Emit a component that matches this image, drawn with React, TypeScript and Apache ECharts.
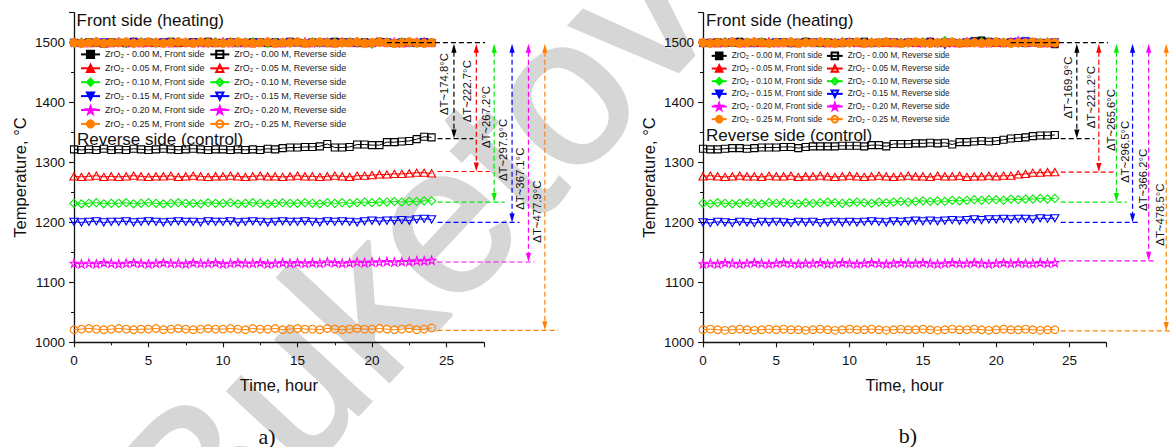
import React, { useEffect, useRef } from "react";
import * as echarts from "echarts";

// ---------- data ----------
const TIME = [0,0.5,1,1.5,2,2.5,3,3.5,4,4.5,5,5.5,6,6.5,7,7.5,8,8.5,9,9.5,10,10.5,11,11.5,12,12.5,13,13.5,14,14.5,15,15.5,16,16.5,17,17.5,18,18.5,19,19.5,20,20.5,21,21.5,22,22.5,23,23.5,24];
const CONCENTRATIONS = ["0.00", "0.05", "0.10", "0.15", "0.20", "0.25"];
const X_TICKS_MAX = 27.5;
const Y_MIN = 1000;
const Y_MAX = 1550;
const HEATING_LEVEL = 1500;

// panel a) front side
const A_FRONT_000 = [1500,1499,1501,1500,1498,1501,1500,1499,1502,1500,1501,1499,1500,1502,1499,1500,1501,1500,1502,1499,1500,1501,1499,1500,1501,1500,1499,1501,1500,1502,1500,1499,1501,1500,1499,1502,1501,1500,1499,1501,1500,1502,1500,1499,1501,1500,1499,1501,1500];
const A_FRONT_005 = [1501,1500,1502,1499,1501,1500,1503,1499,1500,1501,1499,1502,1500,1501,1499,1500,1502,1501,1499,1500,1501,1503,1500,1499,1501,1500,1502,1499,1501,1500,1503,1499,1500,1502,1501,1499,1500,1501,1503,1500,1499,1501,1502,1500,1499,1503,1500,1501,1500];
const A_FRONT_010 = [1499,1501,1500,1502,1499,1500,1501,1498,1500,1502,1500,1499,1501,1500,1502,1499,1501,1500,1499,1502,1500,1501,1499,1500,1502,1500,1498,1501,1500,1499,1501,1500,1502,1499,1500,1501,1499,1502,1500,1501,1497,1500,1501,1499,1502,1500,1499,1501,1500];
const A_FRONT_015 = [1500,1498,1500,1499,1501,1499,1500,1498,1501,1500,1499,1500,1501,1498,1500,1499,1501,1500,1498,1500,1499,1501,1500,1498,1500,1501,1499,1500,1498,1501,1500,1499,1500,1498,1501,1500,1499,1501,1498,1500,1499,1500,1501,1499,1500,1498,1500,1501,1499];
const A_FRONT_020 = [1500,1501,1499,1502,1500,1499,1501,1500,1502,1499,1500,1501,1500,1499,1502,1501,1500,1499,1501,1500,1502,1499,1500,1501,1499,1500,1502,1500,1499,1501,1500,1502,1499,1500,1501,1499,1502,1500,1501,1499,1500,1501,1500,1502,1499,1500,1501,1502,1500];
const A_FRONT_025 = [1500,1499,1500,1501,1499,1500,1500,1501,1499,1500,1501,1500,1499,1500,1501,1500,1499,1501,1500,1500,1499,1500,1501,1500,1499,1500,1501,1499,1500,1500,1501,1499,1500,1501,1500,1499,1500,1500,1501,1499,1500,1501,1500,1499,1500,1501,1500,1499,1500];
// panel a) reverse side
const A_REV_000 = [1322,1321,1322,1321,1323,1321,1322,1321,1323,1322,1321,1322,1323,1322,1321,1322,1323,1322,1321,1322,1322,1321,1322,1321,1322,1321,1323,1322,1324,1325,1325,1326,1326,1327,1331,1325,1325,1326,1330,1330,1329,1329,1334,1334,1335,1336,1339,1343,1342];
const A_REV_005 = [1277,1276,1277,1278,1276,1277,1276,1277,1278,1277,1276,1277,1277,1278,1276,1277,1278,1277,1276,1277,1277,1278,1277,1276,1277,1278,1277,1277,1276,1277,1278,1277,1277,1276,1277,1278,1277,1276,1278,1278,1279,1280,1280,1281,1281,1282,1283,1283,1282];
const A_REV_010 = [1232,1231,1232,1233,1231,1232,1232,1233,1231,1232,1233,1232,1231,1232,1233,1232,1232,1231,1233,1232,1232,1233,1231,1232,1233,1232,1231,1232,1233,1232,1232,1233,1232,1231,1233,1232,1233,1232,1233,1234,1233,1234,1234,1235,1234,1235,1235,1236,1236];
const A_REV_015 = [1201,1200,1201,1202,1200,1201,1201,1202,1200,1201,1202,1201,1200,1201,1202,1201,1201,1200,1202,1201,1201,1202,1200,1201,1202,1201,1200,1201,1202,1201,1201,1202,1201,1200,1202,1201,1202,1201,1200,1202,1203,1202,1203,1203,1204,1203,1205,1206,1205];
const A_REV_020 = [1132,1131,1132,1131,1133,1132,1131,1132,1133,1132,1131,1132,1133,1132,1132,1131,1133,1132,1132,1133,1131,1132,1133,1132,1132,1133,1131,1132,1133,1132,1133,1132,1133,1132,1134,1133,1132,1133,1134,1133,1134,1134,1135,1134,1135,1135,1136,1136,1137];
const A_REV_025 = [1021,1022,1023,1022,1021,1022,1023,1022,1021,1022,1022,1023,1021,1022,1023,1022,1021,1022,1023,1022,1022,1023,1022,1021,1023,1022,1022,1023,1021,1022,1023,1022,1022,1021,1023,1022,1021,1022,1023,1022,1022,1023,1022,1021,1022,1023,1021,1022,1024];

// panel b) front side
const B_FRONT_000 = [1499,1500,1501,1499,1500,1502,1500,1499,1501,1500,1500,1501,1499,1500,1502,1500,1499,1501,1500,1499,1501,1500,1502,1499,1500,1501,1500,1499,1501,1500,1500,1502,1499,1501,1500,1499,1500,1503,1504,1502,1500,1499,1501,1500,1499,1501,1500,1499,1497];
const B_FRONT_005 = [1500,1501,1499,1502,1500,1499,1501,1500,1499,1502,1500,1501,1499,1500,1501,1502,1500,1499,1501,1500,1502,1499,1500,1501,1500,1499,1502,1500,1501,1499,1500,1502,1501,1499,1500,1501,1499,1502,1500,1501,1499,1500,1502,1501,1503,1500,1501,1499,1500];
const B_FRONT_010 = [1501,1499,1500,1502,1499,1500,1501,1500,1502,1499,1500,1501,1499,1500,1502,1500,1499,1501,1500,1502,1499,1500,1501,1500,1499,1502,1500,1501,1499,1500,1502,1500,1499,1504,1500,1499,1501,1500,1502,1499,1500,1501,1500,1499,1502,1500,1501,1499,1500];
const B_FRONT_015 = [1499,1500,1498,1500,1501,1499,1500,1498,1500,1499,1501,1500,1498,1500,1499,1501,1500,1499,1498,1500,1501,1499,1500,1498,1500,1499,1501,1500,1499,1500,1498,1500,1499,1495,1500,1499,1501,1500,1499,1500,1501,1499,1500,1502,1503,1500,1499,1500,1501];
const B_FRONT_020 = [1501,1500,1499,1501,1502,1500,1499,1501,1500,1502,1499,1500,1501,1499,1502,1500,1501,1499,1500,1501,1502,1500,1499,1501,1500,1502,1499,1500,1501,1500,1499,1502,1500,1501,1499,1500,1502,1501,1500,1499,1501,1500,1502,1504,1501,1500,1499,1501,1500];
const B_FRONT_025 = [1500,1499,1500,1500,1501,1499,1500,1501,1500,1499,1500,1500,1501,1499,1500,1500,1501,1500,1499,1500,1500,1501,1499,1500,1500,1501,1500,1499,1500,1501,1500,1499,1500,1500,1501,1499,1500,1500,1499,1500,1501,1500,1499,1500,1500,1501,1499,1500,1500];
// panel b) reverse side
const B_REV_000 = [1323,1322,1322,1323,1324,1324,1323,1324,1325,1325,1325,1326,1326,1324,1326,1327,1327,1327,1327,1328,1328,1328,1327,1329,1329,1327,1331,1331,1331,1332,1332,1333,1332,1333,1330,1334,1334,1335,1336,1335,1336,1338,1340,1341,1342,1344,1345,1345,1346];
const B_REV_005 = [1277,1278,1277,1276,1277,1278,1277,1277,1276,1278,1277,1277,1278,1276,1277,1277,1278,1277,1276,1277,1278,1277,1276,1277,1278,1277,1276,1277,1278,1277,1277,1276,1278,1277,1277,1278,1276,1277,1277,1278,1277,1278,1278,1280,1281,1283,1283,1284,1284];
const B_REV_010 = [1232,1231,1233,1232,1231,1232,1233,1232,1231,1233,1232,1233,1232,1231,1233,1232,1233,1234,1233,1232,1233,1234,1233,1232,1234,1233,1234,1235,1234,1235,1236,1235,1236,1235,1237,1236,1237,1238,1237,1238,1238,1237,1239,1238,1239,1239,1240,1239,1240];
const B_REV_015 = [1200,1199,1201,1200,1199,1201,1200,1199,1201,1200,1201,1200,1199,1201,1200,1201,1199,1200,1201,1200,1201,1200,1201,1202,1201,1200,1202,1201,1202,1203,1202,1203,1202,1203,1204,1203,1204,1205,1204,1205,1205,1206,1205,1206,1206,1205,1207,1206,1207];
const B_REV_020 = [1131,1132,1131,1133,1132,1131,1132,1133,1132,1131,1132,1133,1132,1131,1132,1132,1133,1131,1132,1133,1132,1131,1132,1133,1132,1131,1132,1133,1132,1132,1133,1132,1131,1132,1133,1132,1132,1133,1132,1131,1132,1133,1132,1133,1132,1132,1133,1132,1133];
const B_REV_025 = [1021,1022,1021,1020,1021,1022,1021,1020,1021,1022,1021,1022,1021,1021,1020,1021,1022,1021,1020,1021,1022,1021,1021,1022,1021,1020,1021,1022,1021,1021,1022,1021,1020,1021,1022,1021,1021,1022,1021,1020,1021,1022,1021,1021,1022,1021,1020,1021,1021];

// ΔT annotations: arrow x (hour), reverse level (°C), dashed line end (hour), label position, label text
const A_ARROW_X = [25.5, 27.0, 28.2, 29.4, 30.5, 31.6];
const A_LEVEL = [1340, 1285, 1234, 1200, 1134, 1020];
const A_LINE_END = [26.8, 27.9, 28.9, 29.9, 30.9, 32.5];
const A_LABEL_X = [24.8, 26.4, 27.65, 28.8, 29.9, 31.1];
const A_LABEL_Y = [1431, 1419, 1376, 1321, 1273, 1218];
const A_LABELS = ["ΔT~174.8°C", "ΔT~222.7°C", "ΔT~267.2°C", "ΔT~297.9°C", "ΔT~367.1°C", "ΔT~477.9°C"];

const B_ARROW_X = [25.5, 27.0, 28.2, 29.3, 30.4, 31.6];
const B_LEVEL = [1340, 1284, 1234, 1200, 1136, 1019];
const B_LINE_END = [26.7, 28.0, 28.9, 29.8, 30.8, 32.5];
const B_LABEL_X = [24.9, 26.5, 27.8, 28.8, 30.0, 31.2];
const B_LABEL_Y = [1425, 1409, 1371, 1318, 1271, 1213];
const B_LABELS = ["ΔT~169.9°C", "ΔT~221.2°C", "ΔT~265.6°C", "ΔT~296.5°C", "ΔT~366.2°C", "ΔT~478.5°C"];

const HEATING_LINE_X = [21, 32.5];
const LEVEL_LINE_START = 24.4;

// ---------- styles ----------
const FONT = "Liberation Sans, Arial, Helvetica, sans-serif";
const COLORS = ["#000000", "#ff0000", "#00ee00", "#0000ff", "#ff00ff", "#ff8000"];
const STAR = "path://M50,2 L61.8,36.2 L97.6,36.2 L68.6,57.4 L79.6,91.6 L50,70.4 L20.4,91.6 L31.4,57.4 L2.4,36.2 L38.2,36.2 Z";
const DOWN_TRI = "path://M0,0 L100,0 L50,90 Z";
const SYMBOLS = ["rect", "triangle", "diamond", DOWN_TRI, STAR, "circle"];
const FRONT_SIZE: any[] = [7, [8, 7], 8.5, [8, 7], 9, 9];
const REV_SIZE: any[] = [7, [8.2, 7.2], 8.2, [8.2, 7.2], 8.2, 7.6];

const frontName = (c: string) => `ZrO₂ - ${c} M, Front side`;
const revName = (c: string) => `ZrO₂ - ${c} M, Reverse side`;

function panelSeries(panel: number, front: number[][], rev: number[][]) {
  const out: any[] = [];
  CONCENTRATIONS.forEach((c, i) => {
    out.push({
      type: "line",
      name: frontName(c),
      xAxisIndex: panel,
      yAxisIndex: panel,
      data: TIME.map((t, k) => [t, front[i][k]]),
      symbol: SYMBOLS[i],
      symbolSize: FRONT_SIZE[i],
      showSymbol: true,
      lineStyle: { color: COLORS[i], width: 1 },
      itemStyle: { color: COLORS[i], borderColor: COLORS[i], borderWidth: 0.5 },
      emphasis: { disabled: true },
      silent: true,
    });
    out.push({
      type: "line",
      name: revName(c),
      xAxisIndex: panel,
      yAxisIndex: panel,
      data: TIME.map((t, k) => [t, rev[i][k]]),
      symbol: SYMBOLS[i],
      symbolSize: REV_SIZE[i],
      showSymbol: true,
      lineStyle: { color: COLORS[i], width: 1 },
      itemStyle: { color: "rgba(255,255,255,0)", borderColor: COLORS[i], borderWidth: 1.1 },
      emphasis: { disabled: true },
      silent: true,
    });
  });
  return out;
}

function annotationSeries(panel: number, ax: number[], lvl: number[], end: number[], lx: number[], ly: number[], labels: string[]) {
  return [
    {
      type: "line",
      xAxisIndex: panel,
      yAxisIndex: panel,
      data: HEATING_LINE_X.map((x) => [x, HEATING_LEVEL]),
      symbol: "none",
      clip: false,
      z: 4,
      silent: true,
      lineStyle: { color: "#000", width: 1.2, type: [5, 3] },
    },
    {
      type: "custom",
      xAxisIndex: panel,
      yAxisIndex: panel,
      clip: false,
      silent: true,
      z: 4,
      encode: { x: 0, y: 1 },
      data: ax.map((x, i) => [x, lvl[i], end[i], lx[i], ly[i], i]),
      renderItem: (params: any, api: any) => {
        const x = api.value(0);
        const level = api.value(1);
        const endX = api.value(2);
        const idx = api.value(5);
        const color = COLORS[idx];
        const top = api.coord([x, HEATING_LEVEL]);
        const bot = api.coord([x, level]);
        const hs = api.coord([LEVEL_LINE_START, level]);
        const he = api.coord([endX, level]);
        const lp = api.coord([api.value(3), api.value(4)]);
        const L = 9;
        const W = 2.6;
        const dash = { stroke: color, lineWidth: 1.2, lineDash: [5, 3] };
        return {
          type: "group",
          children: [
            { type: "line", shape: { x1: hs[0], y1: hs[1], x2: he[0], y2: he[1] }, style: dash },
            { type: "line", shape: { x1: top[0], y1: top[1] + L, x2: bot[0], y2: bot[1] - L + 1 }, style: dash },
            { type: "polygon", shape: { points: [[top[0], top[1] + 1], [top[0] - W, top[1] + L + 1], [top[0] + W, top[1] + L + 1]] }, style: { fill: color } },
            { type: "polygon", shape: { points: [[bot[0], bot[1]], [bot[0] - W, bot[1] - L], [bot[0] + W, bot[1] - L]] }, style: { fill: color } },
            {
              type: "text",
              x: lp[0],
              y: lp[1],
              rotation: Math.PI / 2,
              style: { text: labels[idx], fill: "#111", fontSize: 11.3, fontFamily: FONT, align: "center", verticalAlign: "middle" },
            },
          ],
        };
      },
    },
  ];
}

function axisPair(index: number) {
  const xAxis = {
    type: "value",
    gridIndex: index,
    min: 0,
    max: X_TICKS_MAX,
    interval: 5,
    name: "Time, hour",
    nameLocation: "middle",
    nameGap: 34,
    nameTextStyle: { fontSize: 16.5, color: "#111", fontFamily: FONT },
    axisLine: { show: true, onZero: false, lineStyle: { color: "#111", width: 1.3 } },
    axisTick: { show: true, inside: false, length: 5, lineStyle: { color: "#111", width: 1.1 } },
    minorTick: { show: true, splitNumber: 2, length: 3, lineStyle: { color: "#111", width: 1 } },
    axisLabel: { fontSize: 13.5, color: "#111", fontFamily: FONT, margin: 11, showMaxLabel: false, formatter: (v: number) => String(v) },
    splitLine: { show: false },
    minorSplitLine: { show: false },
  };
  const yAxis = {
    type: "value",
    gridIndex: index,
    min: Y_MIN,
    max: Y_MAX,
    interval: 100,
    name: "Temperature, °C",
    nameLocation: "middle",
    nameGap: 46,
    nameTextStyle: { fontSize: 16.5, color: "#111", fontFamily: FONT },
    axisLine: { show: true, onZero: false, lineStyle: { color: "#111", width: 1.3 } },
    axisTick: { show: true, inside: false, length: 5, lineStyle: { color: "#111", width: 1.1 } },
    minorTick: { show: true, splitNumber: 2, length: 3, lineStyle: { color: "#111", width: 1 } },
    axisLabel: { fontSize: 13.5, color: "#111", fontFamily: FONT, margin: 9, showMaxLabel: false, formatter: (v: number) => String(v) },
    splitLine: { show: false },
    minorSplitLine: { show: false },
  };
  return { xAxis, yAxis };
}

function legend(left: number, top: number, names: string[], size: number, itemWidth: number, rowGap: number) {
  const itemHeight = size;
  return {
    orient: "vertical",
    left,
    top,
    padding: 0,
    itemWidth,
    itemHeight,
    itemGap: rowGap - itemHeight,
    selectedMode: false,
    data: names,
    textStyle: { fontSize: size, lineHeight: size, color: "#222", fontFamily: FONT },
  };
}

export default function App() {
  const ref = useRef<HTMLDivElement>(null);
  useEffect(() => {
    if (!ref.current) return;
    const chart = echarts.init(ref.current, undefined, { renderer: "svg" });
    const a = axisPair(0);
    const b = axisPair(1);
    const frontNames = CONCENTRATIONS.map(frontName);
    const revNames = CONCENTRATIONS.map(revName);
    const titleStyle = { fontSize: 17, fill: "#111", fontFamily: FONT, align: "left", verticalAlign: "middle" };
    chart.setOption({
      animation: false,
      backgroundColor: "#ffffff",
      grid: [
        { left: 74, top: 12.7, width: 27.5 * 14.9, height: 329.6, outerBoundsMode: "none", containLabel: false },
        { left: 703, top: 12.7, width: 27.5 * 14.66, height: 329.6, outerBoundsMode: "none", containLabel: false },
      ],
      xAxis: [a.xAxis, b.xAxis],
      yAxis: [a.yAxis, b.yAxis],
      legend: [
        legend(80, 49.8, frontNames, 9, 19, 13.7),
        legend(209.3, 49.8, revNames, 9, 19, 13.7),
        legend(710.7, 51.6, frontNames, 8.2, 15, 12.3),
        legend(826, 51.6, revNames, 8.2, 15.7, 12.3),
      ],
      graphic: [
        {
          type: "text",
          x: 228,
          y: 601,
          rotation: (47 * Math.PI) / 180,
          z: -100,
          silent: true,
          style: { text: "Buketov U", fontSize: 210, fill: "#d6d6d6", stroke: "#d6d6d6", lineWidth: 3.5, fontFamily: FONT, align: "left", verticalAlign: "bottom" },
        },
        { type: "text", x: 76.6, y: 20.7, style: { ...titleStyle, text: "Front side (heating)" } },
        { type: "text", x: 77, y: 139.3, style: { ...titleStyle, text: "Reverse side (control)" } },
        { type: "text", x: 706, y: 20.7, style: { ...titleStyle, text: "Front side (heating)" } },
        { type: "text", x: 706, y: 135, style: { ...titleStyle, text: "Reverse side (control)" } },
        { type: "text", x: 267, y: 436, style: { text: "a)", fontSize: 22, fill: "#111", fontFamily: "Liberation Serif, Times New Roman, serif", align: "center", verticalAlign: "middle" } },
        { type: "text", x: 908, y: 435, style: { text: "b)", fontSize: 22, fill: "#111", fontFamily: "Liberation Serif, Times New Roman, serif", align: "center", verticalAlign: "middle" } },
      ],
      series: [
        ...panelSeries(0, [A_FRONT_000, A_FRONT_005, A_FRONT_010, A_FRONT_015, A_FRONT_020, A_FRONT_025], [A_REV_000, A_REV_005, A_REV_010, A_REV_015, A_REV_020, A_REV_025]),
        ...panelSeries(1, [B_FRONT_000, B_FRONT_005, B_FRONT_010, B_FRONT_015, B_FRONT_020, B_FRONT_025], [B_REV_000, B_REV_005, B_REV_010, B_REV_015, B_REV_020, B_REV_025]),
        ...annotationSeries(0, A_ARROW_X, A_LEVEL, A_LINE_END, A_LABEL_X, A_LABEL_Y, A_LABELS),
        ...annotationSeries(1, B_ARROW_X, B_LEVEL, B_LINE_END, B_LABEL_X, B_LABEL_Y, B_LABELS),
      ],
    });
    return () => chart.dispose();
  }, []);
  return <div ref={ref} style={{ position: "fixed", left: 0, top: 0, width: 1170, height: 447 }} />;
}
